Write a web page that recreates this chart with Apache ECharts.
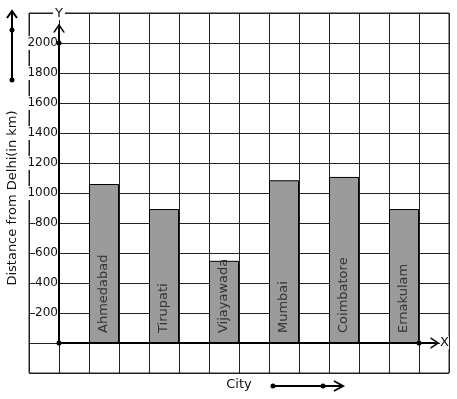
<!DOCTYPE html>
<html>
<head>
<meta charset="utf-8">
<script src="https://cdn.jsdelivr.net/npm/echarts@6/dist/echarts.min.js"></script>
<style>
  html, body { margin: 0; padding: 0; background: #fff; }
  #chart { width: 457px; height: 399px; }
</style>
</head>
<body>
<div id="chart"></div>
<script>
const cities = ['Ahmedabad', 'Tirupati', 'Vijayawada', 'Mumbai', 'Coimbatore', 'Ernakulam']
const distances = [1060, 893, 548, 1085, 1107, 893]
const yTicks = [200, 400, 600, 800, 1000, 1200, 1400, 1600, 1800, 2000]

const FONT = 'DejaVu Sans'
// open chevron pointing up, used for axis arrows
const chevron = 'path://M0 9 L6 0 L12 9 L10.2 9 L6 2.8 L1.8 9 Z'

const chart = echarts.init(document.getElementById('chart'))

chart.setOption({
  animation: false,
  textStyle: { fontFamily: FONT },
  grid: [
    // background squares
    { left: 29, right: 8, top: 13, bottom: 26, show: true, borderColor: '#222', borderWidth: 1, outerBoundsMode: 'none' },
    // axes with arrows
    { left: 59, right: 22, top: 28, bottom: 56, outerBoundsMode: 'none' },
    // bars
    { left: 74, right: 23, top: 28, bottom: 56, outerBoundsMode: 'none' },
  ],
  xAxis: [
    {
      gridIndex: 0, type: 'value', min: 0, max: 14, interval: 1,
      axisLine: { show: false }, axisTick: { show: false }, axisLabel: { show: false },
      splitLine: { show: true, lineStyle: { color: '#222', width: 1 } },
      name: 'City', nameLocation: 'middle', nameGap: 5,
      nameTextStyle: { fontSize: 13, color: '#111', fontFamily: FONT },
    },
    {
      gridIndex: 1, type: 'value', min: 0, max: 10,
      splitLine: { show: false }, axisTick: { show: false }, axisLabel: { show: false },
      axisLine: {
        show: true, onZero: false,
        symbol: ['none', chevron], symbolSize: [12, 9],
        lineStyle: { color: '#000', width: 2 },
      },
      name: 'X', nameGap: 5,
      nameTextStyle: { fontSize: 13, color: '#111', fontFamily: FONT, backgroundColor: '#fff' },
      z: 4,
    },
    {
      gridIndex: 2, type: 'category', data: cities,
      show: false,
    },
  ],
  yAxis: [
    {
      gridIndex: 0, type: 'value', min: 0, max: 12, interval: 1,
      axisLine: { show: false }, axisTick: { show: false }, axisLabel: { show: false },
      splitLine: { show: true, lineStyle: { color: '#222', width: 1 } },
      name: 'Distance from Delhi(in km)', nameLocation: 'middle', nameGap: 10,
      nameTextStyle: { fontSize: 13, color: '#111', fontFamily: FONT, padding: [0, 10, 0, 0] },
    },
    {
      gridIndex: 1, type: 'value', min: 0, max: 2100,
      splitLine: { show: false },
      axisLine: {
        show: true, onZero: false,
        symbol: ['none', chevron], symbolSize: [12, 9],
        lineStyle: { color: '#000', width: 2 },
      },
      axisTick: { show: true, customValues: yTicks, length: 5, lineStyle: { color: '#000', width: 1 } },
      axisLabel: {
        customValues: yTicks, margin: 1, fontSize: 12, color: '#111',
        fontFamily: FONT, backgroundColor: '#fff', padding: [1, 0, 1, 0],
        formatter: (v) => String(v),
      },
      name: 'Y', nameGap: 8,
      nameTextStyle: { fontSize: 13, color: '#111', fontFamily: FONT, backgroundColor: '#fff', padding: [0, 2] },
      z: 4,
    },
    {
      gridIndex: 2, type: 'value', min: 0, max: 2100, show: false,
    },
  ],
  series: [{
    type: 'bar',
    xAxisIndex: 2,
    yAxisIndex: 2,
    data: distances,
    barWidth: 30,
    itemStyle: { color: '#9b9b9b', borderColor: '#000', borderWidth: 1 },
    label: {
      show: true,
      position: 'insideBottom',
      rotate: 90,
      align: 'left',
      verticalAlign: 'middle',
      distance: 10,
      formatter: (p) => p.name,
      fontSize: 13,
      color: '#333',
      fontFamily: FONT,
    },
    z: 3,
  }],
})

// dots on the axes and the two loose arrows
const origin = chart.convertToPixel({ gridIndex: 1 }, [0, 0])
const top2000 = chart.convertToPixel({ gridIndex: 1 }, [0, 2000])
const lastBar = chart.convertToPixel({ xAxisIndex: 2 }, cities[cities.length - 1])

const dot = (x, y) => ({ type: 'circle', shape: { cx: x, cy: y, r: 2.5 }, style: { fill: '#000' }, z: 10 })
const stroke = { stroke: '#000', lineWidth: 2, fill: null }

chart.setOption({
  graphic: [
    dot(origin[0], origin[1]),
    dot(top2000[0], top2000[1]),
    dot(lastBar + 15, origin[1]),
    // upward arrow, top left
    { type: 'line', shape: { x1: 12, y1: 80, x2: 12, y2: 11 }, style: stroke, z: 10 },
    { type: 'polyline', shape: { points: [[7, 18], [12, 11], [17, 18]] }, style: stroke, z: 10 },
    dot(12, 30),
    dot(12, 80),
    // rightward arrow next to City
    { type: 'line', shape: { x1: 273, y1: 386, x2: 343, y2: 386 }, style: stroke, z: 10 },
    { type: 'polyline', shape: { points: [[334, 381], [343, 386], [334, 391]] }, style: stroke, z: 10 },
    dot(273, 386),
    dot(323, 386),
  ],
})
</script>
</body>
</html>
